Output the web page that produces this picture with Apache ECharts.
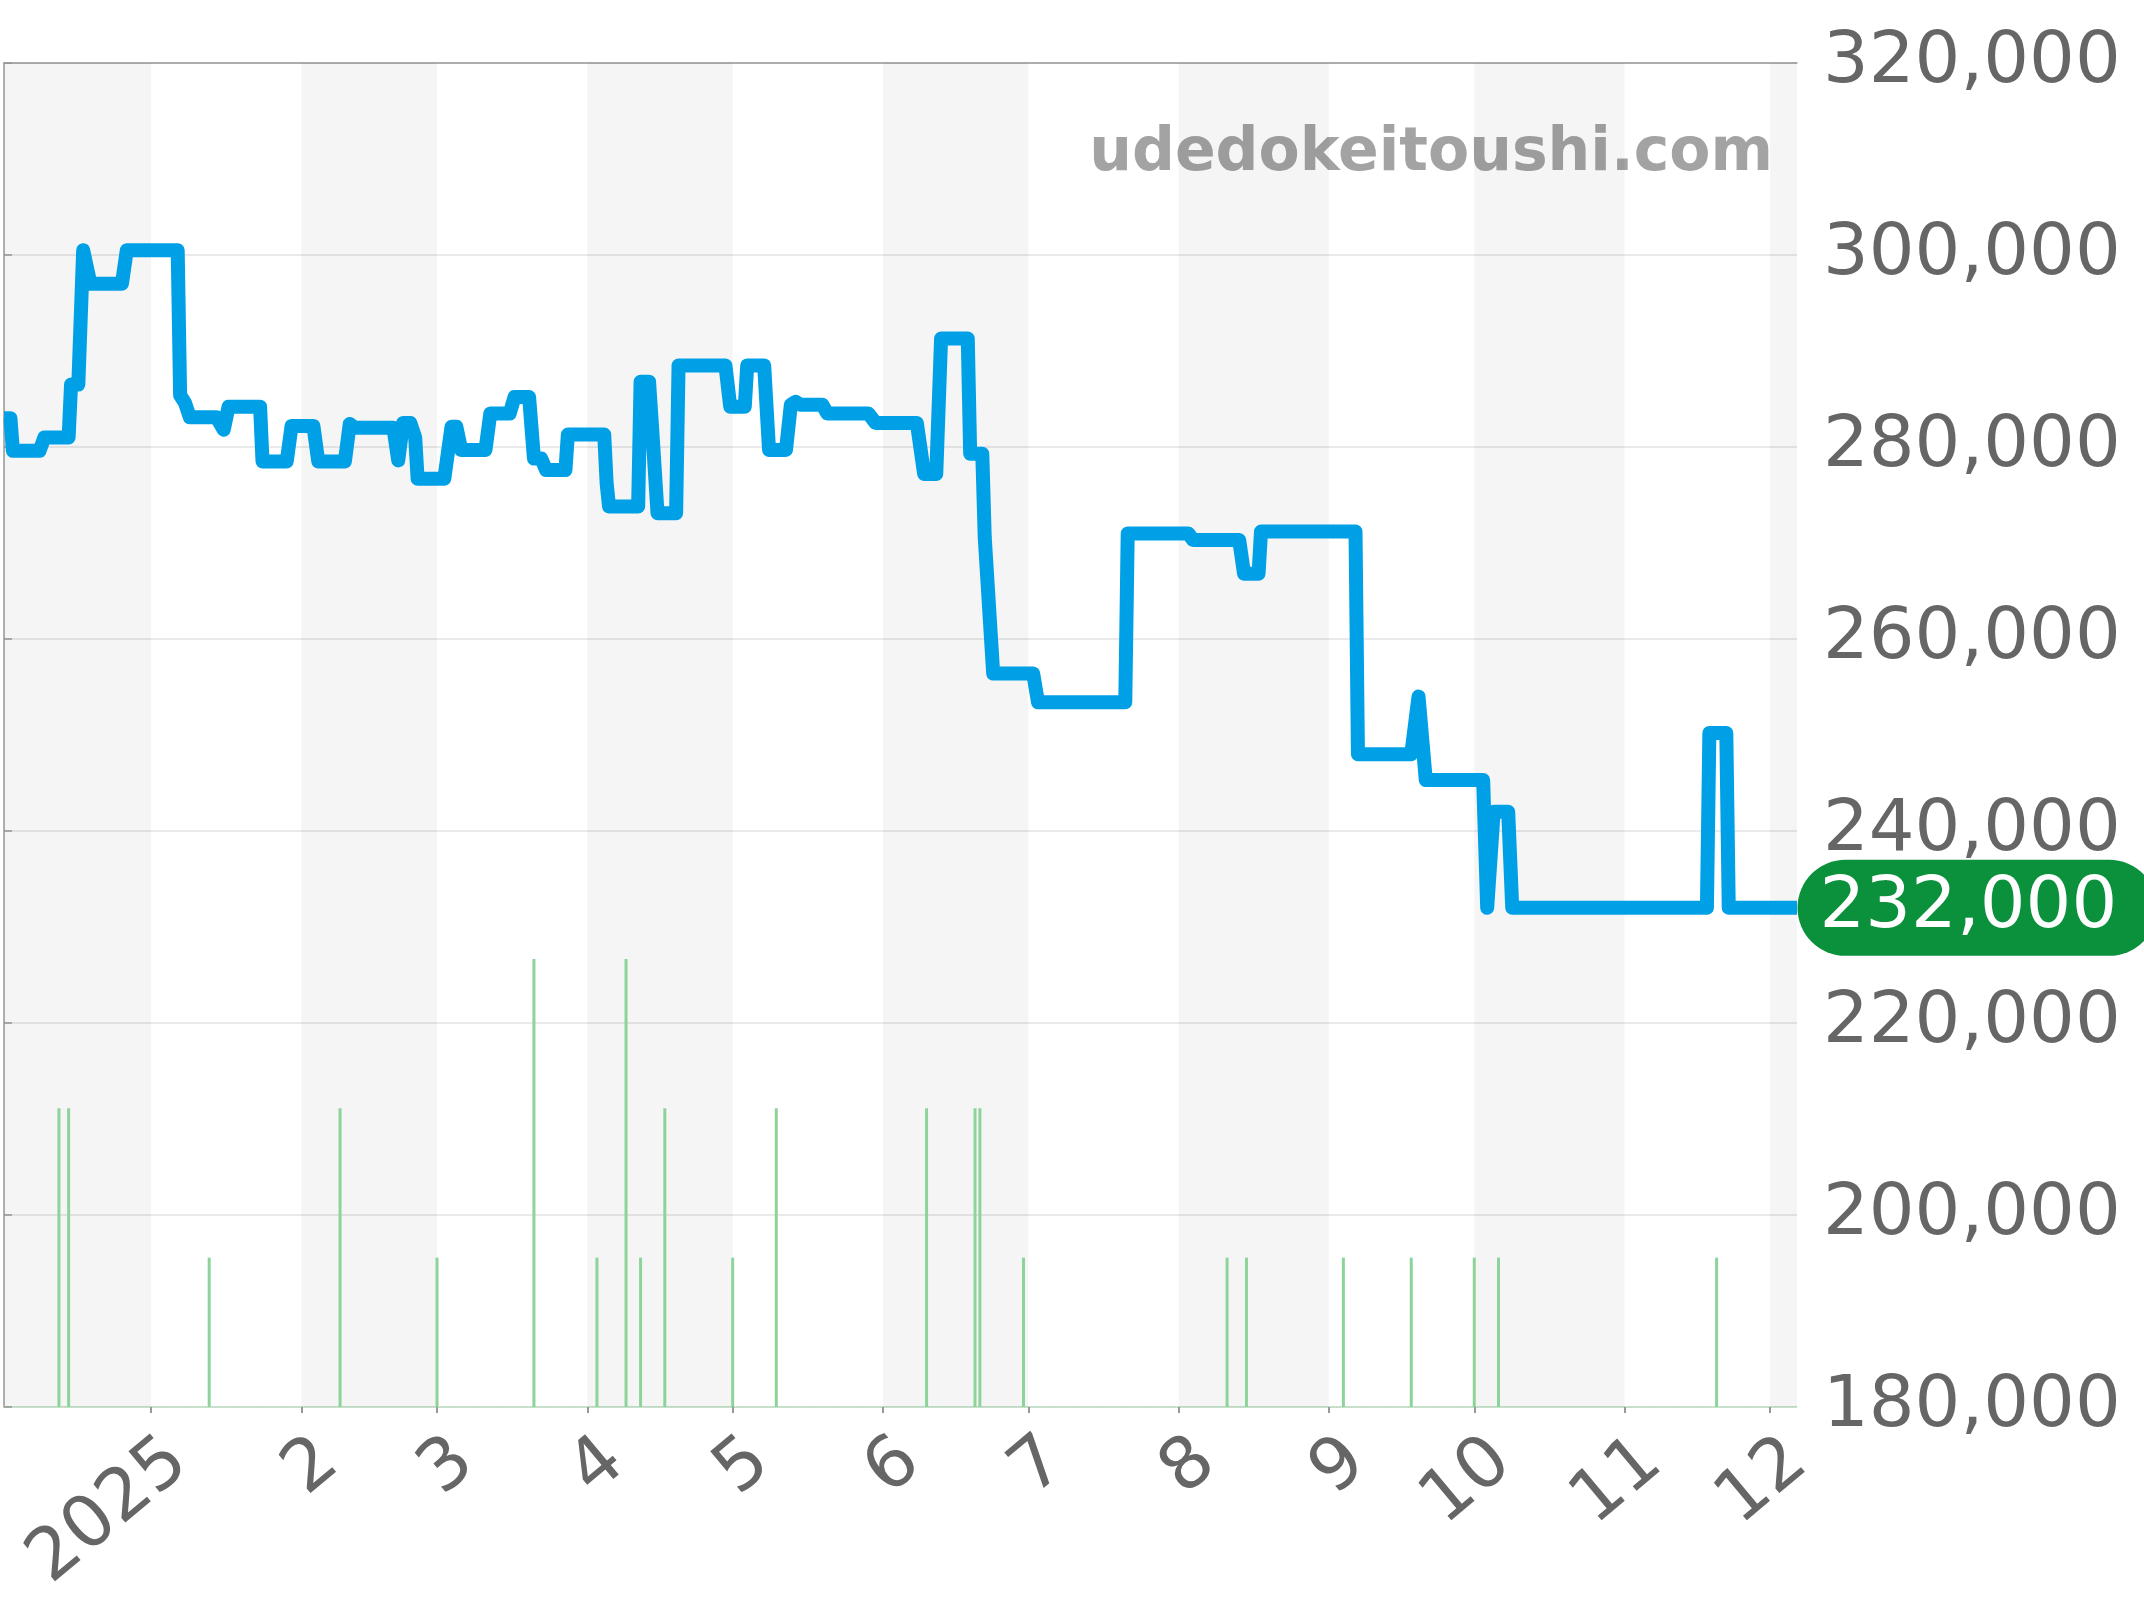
<!DOCTYPE html>
<html>
<head>
<meta charset="utf-8">
<script src="https://cdn.jsdelivr.net/npm/echarts@6/dist/echarts.min.js"></script>
<style>
html,body{margin:0;padding:0;background:#fff;}
#c{width:2144px;height:1600px;}
</style>
</head>
<body>
<div id="c"></div>
<script>
// ---- data ----
const priceDates = [
'2024-12-01 16:00','2024-12-03','2024-12-03 12:00','2024-12-09','2024-12-10','2024-12-15','2024-12-15 12:00','2024-12-17','2024-12-18','2024-12-19 12:00','2024-12-26','2024-12-27',
'2025-01-06 12:00','2025-01-07','2025-01-08','2025-01-09','2025-01-14 12:00','2025-01-16','2025-01-17','2025-01-23 12:00','2025-01-24','2025-01-29','2025-01-30',
'2025-02-03 12:00','2025-02-04 12:00','2025-02-10','2025-02-11','2025-02-12','2025-02-20','2025-02-21','2025-02-22','2025-02-23 12:00','2025-02-24 12:00','2025-02-25',
'2025-03-02 12:00','2025-03-04','2025-03-05','2025-03-06','2025-03-11','2025-03-12','2025-03-16','2025-03-17','2025-03-20','2025-03-21','2025-03-22 12:00','2025-03-23 12:00','2025-03-27 12:00','2025-03-28',
'2025-04-04 12:00','2025-04-05','2025-04-05 12:00','2025-04-11 12:00','2025-04-12','2025-04-13 18:00','2025-04-14 05:00','2025-04-15 12:00','2025-04-19 08:00','2025-04-19 20:00','2025-04-29 12:00','2025-04-30 12:00',
'2025-05-03 12:00','2025-05-04','2025-05-07 12:00','2025-05-08 12:00','2025-05-12','2025-05-13','2025-05-14','2025-05-15','2025-05-19 12:00','2025-05-20 12:00','2025-05-29','2025-05-30 12:00',
'2025-06-08','2025-06-09 12:00','2025-06-12','2025-06-13','2025-06-18 12:00','2025-06-19','2025-06-21 12:00','2025-06-22','2025-06-23 18:00',
'2025-07-02','2025-07-03','2025-07-21','2025-07-21 12:00',
'2025-08-03','2025-08-04','2025-08-13 12:00','2025-08-14 12:00','2025-08-17 12:00','2025-08-18',
'2025-09-06 12:00','2025-09-07','2025-09-18','2025-09-19 12:00','2025-09-21',
'2025-10-02 20:00','2025-10-03 16:00','2025-10-05','2025-10-08','2025-10-08 20:00',
'2025-11-18','2025-11-18 12:00','2025-11-22','2025-11-22 12:00','2025-12-06 14:00'
];
const priceValues = [
283000,283000,279600,279600,281000,281000,286500,286500,300500,297000,297000,300500,
300500,285400,284600,283100,283100,281800,284200,284200,278500,278500,282200,
282200,278500,278500,282400,282000,282000,278600,282500,282500,281000,276700,
276700,282100,282100,279700,279700,283500,283500,285200,285200,278800,278800,277600,277600,281300,
281300,276200,273800,273800,286800,286800,283300,273100,273100,288500,288500,284200,
284200,288500,288500,279700,279700,284400,284700,284400,284400,283500,283500,282500,
282500,277200,277200,291300,291300,279300,279300,270600,256400,
256400,253400,253400,271000,
271000,270300,270300,266800,266800,271200,
271200,248000,248000,254000,245300,
245300,232000,242000,242000,232000,
232000,250200,250200,232000,232000
];
const volumeDates = [
'2024-12-13','2024-12-15','2025-01-13','2025-02-09','2025-03-01','2025-03-21','2025-04-03','2025-04-09','2025-04-12','2025-04-17',
'2025-05-01','2025-05-10','2025-06-10','2025-06-20','2025-06-21','2025-06-30','2025-08-11','2025-08-15','2025-09-04','2025-09-18',
'2025-10-01','2025-10-06','2025-11-20'
];
const volumeCounts = [2,2,1,2,1,3,1,3,1,2, 1,2,2,2,2,1,1,1,1,1, 1,1,1];
const tickDates = ['2025-01-01','2025-02-01','2025-03-01','2025-04-01','2025-05-01','2025-06-01','2025-07-01','2025-08-01','2025-09-01','2025-10-01','2025-11-01','2025-12-01'];
const tickLabels = ['2025','2','3','4','5','6','7','8','9','10','11','12'];
const bandStarts = ['2024-12-01 16:00','2025-02-01','2025-04-01','2025-06-01','2025-08-01','2025-10-01','2025-12-01'];
const bandEnds   = ['2025-01-01','2025-03-01','2025-05-01','2025-07-01','2025-09-01','2025-11-01','2025-12-06 14:00'];
const watermark = 'udedokeitoushi.com';

// ---- helpers ----
function toTs(s){
  const m = s.match(/(\d+)-(\d+)-(\d+)(?:\s+(\d+):(\d+))?/);
  return new Date(+m[1], +m[2]-1, +m[3], m[4]?+m[4]:0, m[5]?+m[5]:0).getTime();
}
function comma(v){ return String(v).replace(/\B(?=(\d{3})+(?!\d))/g, ','); }

const priceData = priceDates.map((d,i)=>[toTs(d), priceValues[i]]);
const volData = volumeDates.map((d,i)=>[toTs(d), volumeCounts[i]]);
const tickTs = tickDates.map(toTs);
const bands = bandStarts.map((s,i)=>[{xAxis: toTs(s)},{xAxis: toTs(bandEnds[i])}]);
const lastPoint = priceData[priceData.length-1];

const FONT = 'DejaVu Sans';
const chart = echarts.init(document.getElementById('c'), null, {renderer:'canvas'});
chart.setOption({
  animation: false,
  backgroundColor: '#ffffff',
  grid: {left: 4, right: 347, top: 63, bottom: 193, containLabel: false, outerBoundsMode: 'none'},
  xAxis: [{
    type: 'value',
    min: priceData[0][0],
    max: lastPoint[0],
    axisLine: {show: true, lineStyle: {color: '#b3dcbb', type: 'dotted', width: 1.5}},
    axisTick: {show: true, length: 6, customValues: tickTs, lineStyle: {color: '#999999', width: 2}},
    splitLine: {show: false},
    axisLabel: {
      customValues: tickTs,
      rotate: 40,
      align: 'right',
      verticalAlign: 'top',
      margin: 12,
      padding: [8, 0, 0, 0],
      fontSize: 72,
      fontFamily: FONT,
      color: '#666666',
      formatter: function(v){ const i = tickTs.indexOf(v); return i >= 0 ? tickLabels[i] : ''; }
    }
  },{
    type: 'value', position: 'top', min: 0, max: 1,
    axisLine: {show: true, lineStyle: {color: '#999999', width: 1.5}},
    axisTick: {show: false}, axisLabel: {show: false}, splitLine: {show: false}
  }],
  yAxis: [{
    type: 'value',
    position: 'right',
    min: 180000, max: 320000, interval: 20000,
    axisLine: {show: true, lineStyle: {color: '#999999', width: 1.5}},
    axisTick: {show: true, inside: false, length: 8, lineStyle: {color: '#999999', width: 1.5}},
    splitLine: {show: true, lineStyle: {color: '#e3e3e3', width: 1.5}},
    axisLabel: {margin: 26, padding: [10, 0, 0, 0], fontSize: 72, fontFamily: FONT, color: '#666666', formatter: comma}
  },{
    type: 'value', min: 0, max: 9, show: false
  }],
  graphic: [{
    type: 'text', right: 371, top: 124, z: 1,
    style: {text: watermark, fill: '#a3a3a3', font: 'bold 60px "DejaVu Sans"'}
  }],
  series: [{
    type: 'bar',
    yAxisIndex: 1,
    data: volData,
    barWidth: 3,
    itemStyle: {color: '#8dd49b'},
    silent: true,
    z: 2,
    markArea: {
      silent: true,
      itemStyle: {color: 'rgba(0,0,0,0.04)'},
      data: bands
    }
  },{
    type: 'line',
    data: priceData,
    showSymbol: false,
    symbol: 'none',
    lineStyle: {color: '#00a0e6', width: 14, join: 'round', cap: 'butt'},
    itemStyle: {color: '#00a0e6'},
    silent: true,
    z: 3,
    markPoint: {
      silent: true,
      symbol: 'rect',
      symbolSize: 1,
      itemStyle: {color: 'rgba(0,0,0,0)'},
      data: [{coord: lastPoint, value: lastPoint[1]}],
      label: {
        show: true, position: 'right', distance: 0,
        formatter: function(p){ return comma(p.value); },
        color: '#ffffff', fontSize: 72, fontFamily: FONT,
        backgroundColor: '#0b903c', borderRadius: 48,
        padding: [17, 40, 7, 22]
      }
    }
  }]
});
</script>
</body>
</html>
